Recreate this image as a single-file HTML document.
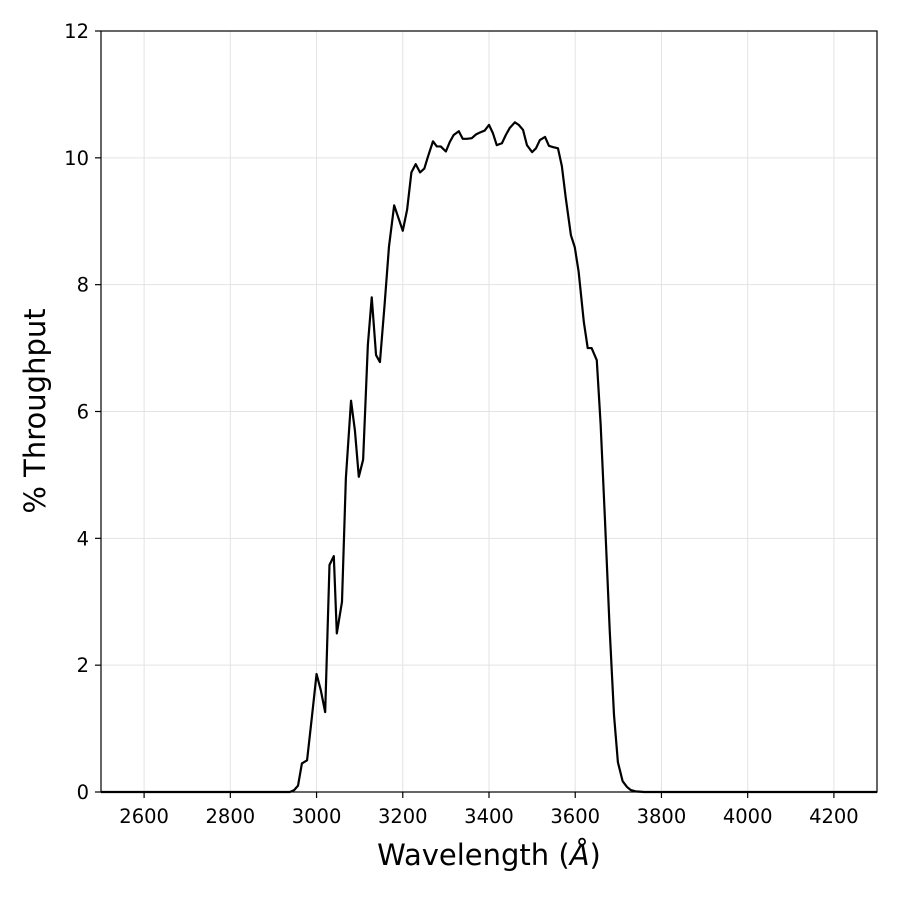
<!DOCTYPE html>
<html><head><meta charset="utf-8"><style>
body{margin:0;background:#fff;}
svg text{font-family:"DejaVu Sans","Liberation Sans",sans-serif;}
</style></head><body>
<svg id="chart" width="900" height="900" xmlns="http://www.w3.org/2000/svg">
<rect width="900" height="900" fill="#fff"/>
<g id="grid"></g>
<g id="axes"></g>
<path id="curve" fill="none" stroke="#000" stroke-width="2.2" stroke-linejoin="round"/>
<rect x="101" y="31" width="776" height="761" fill="none" stroke="#000" stroke-width="1.2"/>
<text x="489" y="865" font-size="29" text-anchor="middle">Wavelength (<tspan font-style="italic">Å</tspan>)</text>
<text transform="translate(45,411) rotate(-90)" font-size="29" text-anchor="middle">% Throughput</text>
</svg>
<script>
const wavelengths=[2500,2938,2948,2957,2966,2978,2989,3000,3010,3020,3030,3040,3047,3059,3068,3080,3089,3098,3108,3119,3128,3138,3147,3158,3168,3180,3190,3200,3210,3220,3230,3240,3250,3258,3270,3279,3288,3300,3309,3318,3330,3339,3349,3360,3370,3379,3390,3400,3409,3418,3430,3439,3448,3460,3469,3479,3488,3500,3509,3518,3530,3539,3548,3560,3569,3578,3590,3599,3608,3620,3629,3638,3650,3659,3669,3680,3690,3699,3710,3720,3729,3740,3760,4300];
const throughput=[0,0,0.03,0.1,0.45,0.5,1.17,1.86,1.6,1.26,3.58,3.72,2.5,3.0,4.95,6.17,5.7,4.97,5.24,7.05,7.8,6.89,6.78,7.7,8.6,9.25,9.05,8.85,9.18,9.77,9.9,9.77,9.83,10.01,10.26,10.18,10.18,10.1,10.25,10.36,10.42,10.3,10.3,10.31,10.37,10.4,10.43,10.52,10.39,10.2,10.23,10.36,10.47,10.56,10.52,10.44,10.2,10.09,10.15,10.28,10.33,10.19,10.17,10.15,9.87,9.37,8.78,8.59,8.2,7.41,7.0,7.0,6.81,5.79,4.29,2.55,1.21,0.47,0.17,0.08,0.03,0.01,0,0];
const xTicks=[2600,2800,3000,3200,3400,3600,3800,4000,4200];
const yTicks=[0,2,4,6,8,10,12];
const X0=101,X1=877,Y0=792,Y1=31,XMIN=2500,XMAX=4300,YMIN=0,YMAX=12;
function sx(v){return X0+(v-XMIN)/(XMAX-XMIN)*(X1-X0);}
function sy(v){return Y0-(v-YMIN)/(YMAX-YMIN)*(Y0-Y1);}
const NS="http://www.w3.org/2000/svg";
const grid=document.getElementById('grid'),axes=document.getElementById('axes');
function mk(t,a,p){const e=document.createElementNS(NS,t);for(const k in a)e.setAttribute(k,a[k]);p.appendChild(e);return e;}
xTicks.forEach(v=>{const x=sx(v);
 const g=mk('line',{x1:x,x2:x,y1:Y1,y2:Y0,stroke:'#e3e3e3','stroke-width':1},grid);
 
 
 const t=mk('line',{x1:x,x2:x,y1:Y0,y2:Y0+6,stroke:'#000','stroke-width':1.2},axes);
 
 
 const l=mk('text',{x:x,y:Y0+31,'font-size':19.5,'text-anchor':'middle'},axes);l.textContent=v;
 
 
});
yTicks.forEach(v=>{const y=sy(v);
 const g=mk('line',{x1:X0,x2:X1,y1:y,y2:y,stroke:'#e3e3e3','stroke-width':1},grid);
 
 
 const t=mk('line',{x1:X0-6,x2:X0,y1:y,y2:y,stroke:'#000','stroke-width':1.2},axes);
 
 
 const l=mk('text',{x:X0-12,y:y+7,'font-size':19.5,'text-anchor':'end'},axes);l.textContent=v;
 
 
});
document.getElementById('curve').setAttribute('d',wavelengths.map((w,i)=>(i?'L':'M')+sx(w).toFixed(2)+','+sy(throughput[i]).toFixed(2)).join(''));
</script>
</body></html>
